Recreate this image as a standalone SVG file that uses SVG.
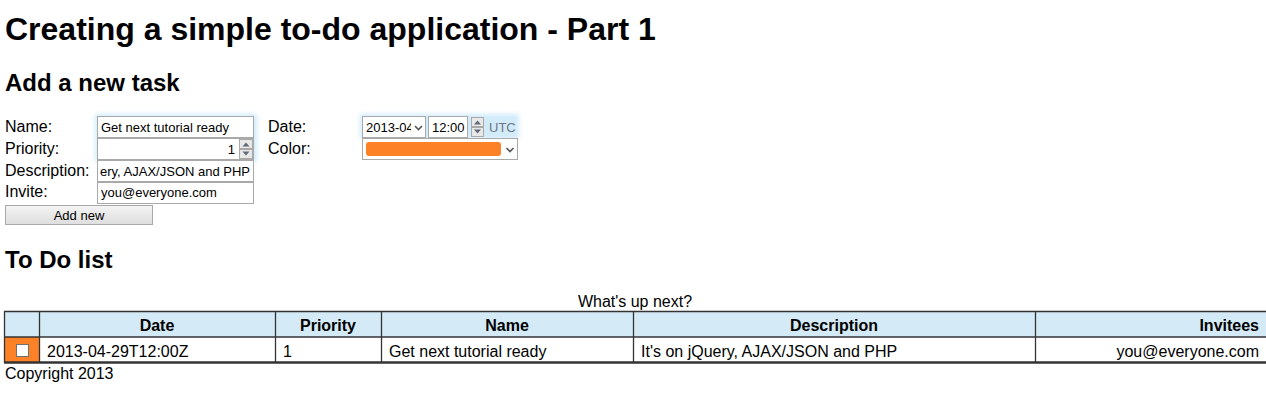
<svg xmlns="http://www.w3.org/2000/svg" width="1266" height="400" viewBox="0 0 1266 400">
<style>
text{font-family:"Liberation Sans",Arial,sans-serif;fill:#000}
.h1{font-size:32px;font-weight:bold}
.h2{font-size:24px;font-weight:bold}
.lbl{font-size:16px}
.inp{font-size:13px}
.box{fill:#fff;stroke:#a9a9a9;stroke-width:1}
.spin{fill:#e8e8e8;stroke:#a9a9a9;stroke-width:1}
.arr{fill:#606a77}
.th{font-size:16px;font-weight:bold}
.td{font-size:16px}
.hdr{fill:#d4ebf7}
.ln{stroke:#333;stroke-width:1.3}
</style>
<defs>
<filter id="glow" x="-20%" y="-50%" width="140%" height="200%"><feGaussianBlur stdDeviation="2"/></filter>
<linearGradient id="btn" x1="0" y1="0" x2="0" y2="1"><stop offset="0" stop-color="#f4f4f4"/><stop offset="1" stop-color="#dedede"/></linearGradient>
</defs>
<rect width="1266" height="400" fill="#fff"/>
<text class="h1" x="5" y="40">Creating a simple to-do application - Part 1</text>
<text class="h2" x="5" y="91">Add a new task</text>

<g id="form">
<rect x="95" y="114" width="162" height="48" fill="#bfe3f8" opacity="0.7" filter="url(#glow)"/>
<rect x="360" y="114" width="159" height="25" fill="#bfe3f8" opacity="0.7" filter="url(#glow)"/>
<text class="lbl" x="5" y="132">Name:</text>
<text class="lbl" x="5" y="154">Priority:</text>
<text class="lbl" x="5" y="176">Description:</text>
<text class="lbl" x="5" y="197">Invite:</text>
<g id="name-input"><rect class="box" x="97.5" y="116.5" width="156" height="21"/><text class="inp" x="101" y="132">Get next tutorial ready</text></g>
<g id="priority-input"><rect class="box" x="97.5" y="138.5" width="156" height="21"/><text class="inp" x="235" y="154" text-anchor="end">1</text>
<rect class="spin" x="239.5" y="139.5" width="13" height="9"/><rect class="spin" x="239.5" y="149.5" width="13" height="9"/>
<path class="arr" d="M242.5 146.5 L246 142.5 L249.5 146.5 Z"/><path class="arr" d="M242.5 151.5 L249.5 151.5 L246 155.5 Z"/></g>
<g id="desc-input"><rect class="box" x="97.5" y="160.5" width="156" height="21"/><text class="inp" x="100" y="176">ery, AJAX/JSON and PHP</text></g>
<g id="invite-input"><rect class="box" x="97.5" y="182.5" width="156" height="21"/><text class="inp" x="101" y="197">you@everyone.com</text></g>
<g id="add-button"><rect x="5.5" y="205.5" width="147" height="19" fill="url(#btn)" stroke="#a9a9a9"/><text class="inp" x="79" y="220" text-anchor="middle">Add new</text></g>

<text class="lbl" x="268" y="132">Date:</text>
<text class="lbl" x="268" y="154">Color:</text>
<g id="date-select"><rect class="box" x="362.5" y="116.5" width="63" height="21"/><text class="inp" x="366" y="132">2013-04</text><rect x="411" y="118" width="14" height="18" fill="#fff"/>
<path d="M415 126 L418.5 129.5 L422 126" fill="none" stroke="#555" stroke-width="1.6"/></g>
<g id="time-input"><rect class="box" x="428.5" y="116.5" width="39" height="21"/><text class="inp" x="432" y="132">12:00</text>
<rect class="spin" x="471.5" y="117.5" width="12" height="9"/><rect class="spin" x="471.5" y="127.5" width="12" height="9"/>
<path class="arr" d="M474 124.5 L477.5 120.5 L481 124.5 Z"/><path class="arr" d="M474 129.5 L481 129.5 L477.5 133.5 Z"/>
<text class="inp" x="489" y="132" style="fill:#6d7580">UTC</text></g>
<g id="color-select"><rect class="box" x="362.5" y="138.5" width="155" height="21"/><rect x="366" y="142" width="135" height="14" rx="3" fill="#fd8127"/>
<path d="M506.5 148 L510 151.5 L513.5 148" fill="none" stroke="#555" stroke-width="1.6"/></g>
</g>

<text class="h2" x="5" y="268">To Do list</text>
<text class="lbl" x="635" y="307" text-anchor="middle">What's up next?</text>

<g id="table">
<rect class="hdr" x="4" y="311" width="1262" height="26"/>
<rect x="4" y="337" width="35" height="25" fill="#fd8127"/>
<g id="grid">
<line class="ln" x1="4" y1="311.5" x2="1266" y2="311.5"/>
<line class="ln" x1="4" y1="337" x2="1266" y2="337"/>
<line x1="4" y1="362.5" x2="1266" y2="362.5" stroke="#333" stroke-width="2.4"/>
<line class="ln" x1="4.5" y1="311" x2="4.5" y2="363"/>
<line class="ln" x1="39.5" y1="311" x2="39.5" y2="362"/>
<line class="ln" x1="275.5" y1="311" x2="275.5" y2="362"/>
<line class="ln" x1="381.5" y1="311" x2="381.5" y2="362"/>
<line class="ln" x1="633.5" y1="311" x2="633.5" y2="362"/>
<line class="ln" x1="1035.5" y1="311" x2="1035.5" y2="362"/>
</g>
<text class="th" x="157" y="331" text-anchor="middle">Date</text>
<text class="th" x="328" y="331" text-anchor="middle">Priority</text>
<text class="th" x="507" y="331" text-anchor="middle">Name</text>
<text class="th" x="834" y="331" text-anchor="middle">Description</text>
<text class="th" x="1259" y="331" text-anchor="end">Invitees</text>
<rect x="16.5" y="344.5" width="12" height="12" fill="#fff" stroke="#707070"/>
<text class="td" x="47" y="357">2013-04-29T12:00Z</text>
<text class="td" x="283" y="357">1</text>
<text class="td" x="389" y="357">Get next tutorial ready</text>
<text class="td" x="641" y="357">It's on jQuery, AJAX/JSON and PHP</text>
<text class="td" x="1259" y="357" text-anchor="end">you@everyone.com</text>
</g>
<text class="lbl" x="5" y="379">Copyright 2013</text>
</svg>
